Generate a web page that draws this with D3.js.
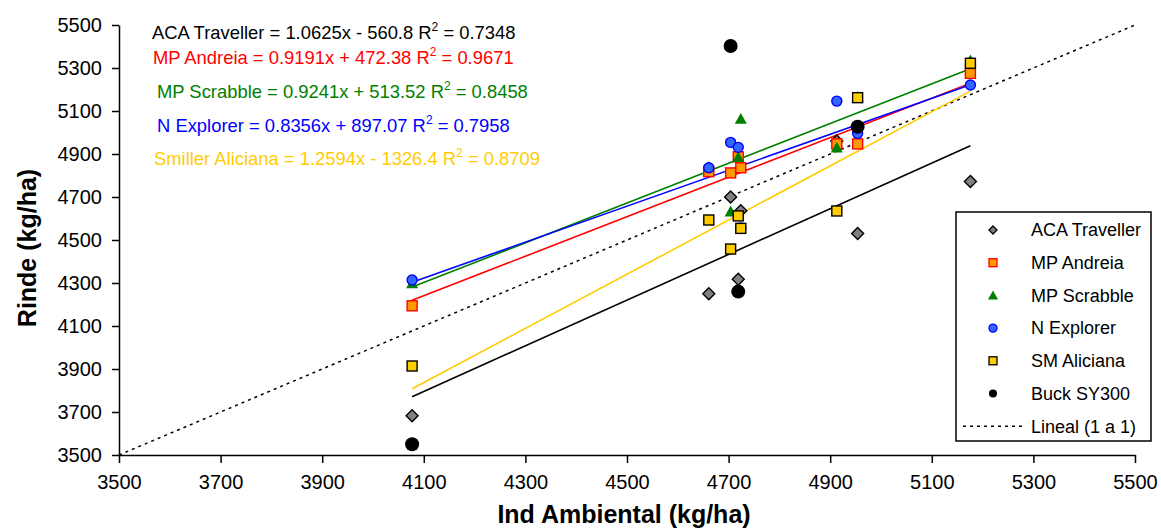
<!DOCTYPE html>
<html>
<head>
<meta charset="utf-8">
<script src="https://cdn.jsdelivr.net/npm/d3@7"></script>
<style>
  body { margin: 0; background: #fff; }
  svg { display: block; font-family: Arial, "Liberation Sans", sans-serif; }
</style>
</head>
<body>
<div id="chart"></div>
<script>
// site environmental index (x) for each of the 8 trials
const sites = [4077, 4661, 4704, 4719, 4724, 4913, 4954, 5176];

const acaTraveller = [3683, 4250, 4700, 4317, 4636, 4960, 4530, 4772];
const mpAndreia    = [4194, 4818, 4812, 4887, 4836, 4947, 4947, 5275];
const mpScrabble   = [4298, 4840, 4632, 4885, 5063, 4929, 5165, 5335];
const nExplorer    = [4314, 4836, 4954, 4931, 4556, 5146, 4996, 5221];
const smAliciana   = [3914, 4593, 4458, 4612, 4554, 4635, 5162, 5322];

const buckSites = [4077, 4704, 4719, 4954];
const buckSY300 = [3550, 5402, 4260, 5027];

const legendNames = ["ACA Traveller", "MP Andreia", "MP Scrabble", "N Explorer", "SM Aliciana", "Buck SY300", "Lineal (1 a 1)"];

// trend line equations shown on the chart
const eqNames      = ["ACA Traveller", "MP Andreia", "MP Scrabble", "N Explorer", "Smiller Aliciana"];
const eqSlopes     = [1.0625, 0.9191, 0.9241, 0.8356, 1.2594];
const eqIntercepts = [-560.8, 472.38, 513.52, 897.07, -1326.4];
const eqR2         = [0.7348, 0.9671, 0.8458, 0.7958, 0.8709];

const tickValues = [3500, 3700, 3900, 4100, 4300, 4500, 4700, 4900, 5100, 5300, 5500];

const width = 1161, height = 531;
const svg = d3.select("#chart").append("svg")
  .attr("width", width)
  .attr("height", height);

const x = d3.scaleLinear().domain([3500, 5500]).range([119, 1135]);
const y = d3.scaleLinear().domain([3500, 5500]).range([455, 25]);

// series styling
const series = [
  { vals: acaTraveller, shape: "diamond", fill: "#808080", stroke: "#000000", line: "#000000", size: 12 },
  { vals: mpAndreia,    shape: "square",  fill: "#FF9900", stroke: "#FF0000", line: "#FF0000", size: 10 },
  { vals: mpScrabble,   shape: "triangle",fill: "#008000", stroke: "none",    line: "#008000", size: 12 },
  { vals: nExplorer,    shape: "circle",  fill: "#3366FF", stroke: "#0000FF", line: "#0000FF", size: 10 },
  { vals: smAliciana,   shape: "square",  fill: "#FFCC00", stroke: "#000000", line: "#FFCC00", size: 10 }
];
const buckStyle = { shape: "circle", fill: "#000000", stroke: "#000000", size: 14 };

function drawMarker(g, shape, cx, cy, s, fill, stroke, sw) {
  let el;
  if (shape === "circle") {
    el = g.append("circle").attr("cx", cx).attr("cy", cy).attr("r", s / 2);
  } else if (shape === "square") {
    el = g.append("rect").attr("x", cx - s / 2).attr("y", cy - s / 2).attr("width", s).attr("height", s);
  } else if (shape === "diamond") {
    const h = s / 2;
    el = g.append("path").attr("d", `M${cx},${cy - h}L${cx + h},${cy}L${cx},${cy + h}L${cx - h},${cy}Z`);
  } else {
    const h = s / 2;
    el = g.append("path").attr("d", `M${cx},${cy - h}L${cx + h},${cy + h * 0.8}L${cx - h},${cy + h * 0.8}Z`);
  }
  el.attr("fill", fill).attr("stroke", stroke).attr("stroke-width", sw);
}

// axes
const xAxis = svg.append("g")
  .attr("transform", `translate(0,${y(3500)})`)
  .call(d3.axisBottom(x).tickValues(tickValues).tickSizeInner(8).tickSizeOuter(0).tickPadding(12).tickFormat(d3.format("d")));
xAxis.selectAll("text").style("font-size", "20px").attr("fill", "#000");

const yAxis = svg.append("g")
  .attr("transform", `translate(${x(3500)},0)`)
  .call(d3.axisLeft(y).tickValues(tickValues).tickSizeInner(7).tickSizeOuter(0).tickPadding(10).tickFormat(d3.format("d")));
yAxis.selectAll("text").style("font-size", "20px").attr("fill", "#000");

svg.selectAll(".domain, .tick line").attr("stroke", "#000").attr("stroke-width", 1.5);

svg.append("text")
  .attr("x", (x(3500) + x(5500)) / 2 - 3)
  .attr("y", 523)
  .attr("text-anchor", "middle")
  .style("font-size", "25px")
  .style("font-weight", "bold")
  .text("Ind Ambiental (kg/ha)");

svg.append("text")
  .attr("transform", "translate(36,248) rotate(-90)")
  .attr("text-anchor", "middle")
  .style("font-size", "25px")
  .style("font-weight", "bold")
  .text("Rinde (kg/ha)");

// 1:1 line
svg.append("line")
  .attr("x1", x(3500)).attr("y1", y(3500))
  .attr("x2", x(5500)).attr("y2", y(5500))
  .attr("stroke", "#000")
  .attr("stroke-width", 1.5)
  .attr("stroke-dasharray", "3 4");

// trend lines
const xMin = d3.min(sites), xMax = d3.max(sites);
series.forEach((s, i) => {
  svg.append("line")
    .attr("x1", x(xMin)).attr("y1", y(eqSlopes[i] * xMin + eqIntercepts[i]))
    .attr("x2", x(xMax)).attr("y2", y(eqSlopes[i] * xMax + eqIntercepts[i]))
    .attr("stroke", s.line)
    .attr("stroke-width", 1.6);
});

// points
const pts = svg.append("g");
series.forEach(s => {
  s.vals.forEach((v, j) => {
    drawMarker(pts, s.shape, x(sites[j]), y(v), s.size, s.fill, s.stroke, 1.4);
  });
});
buckSY300.forEach((v, j) => {
  drawMarker(pts, buckStyle.shape, x(buckSites[j]), y(v), buckStyle.size, buckStyle.fill, buckStyle.stroke, 0);
});

// equation labels
const eqColors = ["#000000", "#FF0000", "#008000", "#0000FF", "#FFCC00"];
const eqPos = [[152, 39], [153, 64], [157, 98], [157, 132], [154, 165]];
eqNames.forEach((name, i) => {
  const b = eqIntercepts[i];
  const t = svg.append("text")
    .attr("x", eqPos[i][0])
    .attr("y", eqPos[i][1])
    .attr("fill", eqColors[i])
    .style("font-size", "18.4px");
  t.append("tspan").text(`${name} = ${eqSlopes[i]}x ${b < 0 ? "-" : "+"} ${Math.abs(b)} R`);
  t.append("tspan").attr("dy", -8).style("font-size", "12px").text("2");
  t.append("tspan").attr("dy", 8).text(` = ${eqR2[i]}`);
});

// legend
const lg = svg.append("g");
lg.append("rect")
  .attr("x", 956).attr("y", 212)
  .attr("width", 195).attr("height", 229)
  .attr("fill", "#fff")
  .attr("stroke", "#000")
  .attr("stroke-width", 1.5);

const legendStyles = series.map(s => s).concat([buckStyle]);
legendNames.forEach((name, i) => {
  const cy = 230 + i * 32.7;
  if (i < legendStyles.length) {
    const s = legendStyles[i];
    const ls = s.shape === "triangle" ? 10 : 8;
    drawMarker(lg, s.shape, 993, cy, ls, s.fill, s.stroke, s === buckStyle ? 0 : 1.3);
  } else {
    lg.append("line")
      .attr("x1", 963).attr("x2", 1026)
      .attr("y1", cy).attr("y2", cy)
      .attr("stroke", "#000")
      .attr("stroke-width", 1.5)
      .attr("stroke-dasharray", "3 4");
  }
  lg.append("text")
    .attr("x", 1031)
    .attr("y", cy)
    .attr("dy", "0.35em")
    .style("font-size", "18px")
    .text(name);
});
</script>
</body>
</html>
